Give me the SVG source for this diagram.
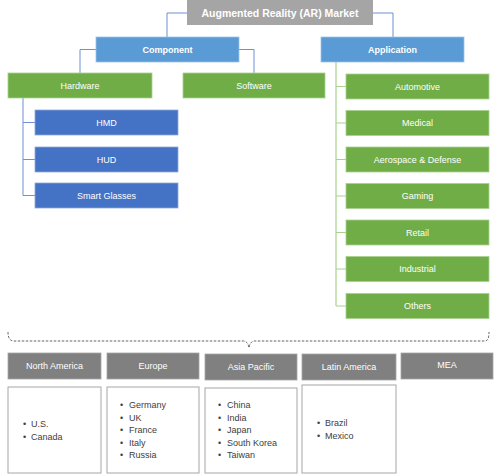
<svg xmlns="http://www.w3.org/2000/svg" width="500" height="474" viewBox="0 0 500 474">
<style>
text{font-family:"Liberation Sans",Arial,sans-serif;font-size:9px;fill:#fff;text-anchor:middle;dominant-baseline:central}
.b{font-weight:bold}
.t{font-size:10.5px}
.gray{fill:#A5A5A5}
.blue{fill:#5B9BD5;stroke:#9DC3E6;stroke-width:0.8}
.dblue{fill:#4472C4;stroke:#8FAADC;stroke-width:0.8}
.green{fill:#70AD47;stroke:#A9D18E;stroke-width:0.8}
.reg{fill:#808080;stroke:#A6A6A6;stroke-width:0.8}
.list{fill:#fff;stroke:#A6A6A6;stroke-width:1}
.lt{fill:#404040;text-anchor:start}
.cb{fill:none;stroke:#6F8FD8;stroke-width:1}
.cg{fill:none;stroke:#A9D18E;stroke-width:1.2}
.dash{fill:none;stroke:#404040;stroke-width:0.8;stroke-dasharray:2.5,1.5}
</style>
<g id="connectors">
<path class="cb" d="M187,13 H167 V37"/>
<path class="cb" d="M373,13 H393 V37"/>
<path class="cb" d="M96,49.5 H80 V73"/>
<path class="cb" d="M239,49.5 H254 V73"/>
<path class="cb" d="M23,98 V195.5 M23,122.5 H35 M23,159.5 H35 M23,195.5 H35"/>
<path class="cg" d="M336,62 V306 M336,86.5 H346 M336,123 H346 M336,159.5 H346 M336,196 H346 M336,232.5 H346 M336,269 H346 M336,306 H346"/>
<path class="dash" d="M8,332 Q8,341 14,341 H243 Q248,341 249,348 Q250,341 255,341 H485 Q489,341 489,332"/>
</g>
<g id="title"><rect class="gray" x="187" y="0" width="186" height="25"/><text class="b t" x="280" y="12.5">Augmented Reality (AR) Market</text></g>
<g id="component"><rect class="blue" x="96" y="37" width="143" height="25"/><text class="b" x="167.5" y="49.5">Component</text></g>
<g id="application"><rect class="blue" x="321" y="37" width="143" height="25"/><text class="b" x="392.5" y="49.5">Application</text></g>
<g id="hardware"><rect class="green" x="8" y="73" width="144" height="25"/><text x="80" y="85.5">Hardware</text></g>
<g id="software"><rect class="green" x="183" y="73" width="142" height="25"/><text x="254" y="85.5">Software</text></g>
<g id="hmd"><rect class="dblue" x="35" y="110" width="143" height="25"/><text x="106.5" y="122.5">HMD</text></g>
<g id="hud"><rect class="dblue" x="35" y="147" width="143" height="25"/><text x="106.5" y="159.5">HUD</text></g>
<g id="smartglasses"><rect class="dblue" x="35" y="183" width="143" height="25"/><text x="106.5" y="195.5">Smart Glasses</text></g>
<g id="automotive"><rect class="green" x="346" y="74" width="143" height="25"/><text x="417.5" y="86.5">Automotive</text></g>
<g id="medical"><rect class="green" x="346" y="110.5" width="143" height="25"/><text x="417.5" y="123">Medical</text></g>
<g id="aerospace"><rect class="green" x="346" y="147" width="143" height="25"/><text x="417.5" y="159.5">Aerospace &amp; Defense</text></g>
<g id="gaming"><rect class="green" x="346" y="183.5" width="143" height="25"/><text x="417.5" y="196">Gaming</text></g>
<g id="retail"><rect class="green" x="346" y="220" width="143" height="25"/><text x="417.5" y="232.5">Retail</text></g>
<g id="industrial"><rect class="green" x="346" y="256.5" width="143" height="25"/><text x="417.5" y="269">Industrial</text></g>
<g id="others"><rect class="green" x="346" y="293.5" width="143" height="25"/><text x="417.5" y="306">Others</text></g>
<g id="northamerica"><rect class="reg" x="8" y="353" width="93" height="26"/><text x="54.5" y="366">North America</text>
<rect class="list" x="8" y="387" width="93" height="86"/>
<text class="lt" x="23" y="424">•</text><text class="lt" x="31" y="424">U.S.</text>
<text class="lt" x="23" y="437">•</text><text class="lt" x="31" y="437">Canada</text></g>
<g id="europe"><rect class="reg" x="107" y="353" width="92" height="26"/><text x="153" y="366">Europe</text>
<rect class="list" x="107" y="387" width="92" height="86"/>
<text class="lt" x="120" y="405">•</text><text class="lt" x="129" y="405">Germany</text>
<text class="lt" x="120" y="417.5">•</text><text class="lt" x="129" y="417.5">UK</text>
<text class="lt" x="120" y="430">•</text><text class="lt" x="129" y="430">France</text>
<text class="lt" x="120" y="442.5">•</text><text class="lt" x="129" y="442.5">Italy</text>
<text class="lt" x="120" y="455">•</text><text class="lt" x="129" y="455">Russia</text></g>
<g id="asiapacific"><rect class="reg" x="205" y="354" width="92" height="26"/><text x="251" y="367">Asia Pacific</text>
<rect class="list" x="205" y="388" width="92" height="85"/>
<text class="lt" x="218" y="405">•</text><text class="lt" x="227" y="405">China</text>
<text class="lt" x="218" y="417.5">•</text><text class="lt" x="227" y="417.5">India</text>
<text class="lt" x="218" y="430">•</text><text class="lt" x="227" y="430">Japan</text>
<text class="lt" x="218" y="442.5">•</text><text class="lt" x="227" y="442.5">South Korea</text>
<text class="lt" x="218" y="455">•</text><text class="lt" x="227" y="455">Taiwan</text></g>
<g id="latinamerica"><rect class="reg" x="302" y="354" width="94" height="26"/><text x="349" y="367">Latin America</text>
<rect class="list" x="302" y="385" width="94" height="88"/>
<text class="lt" x="317" y="423">•</text><text class="lt" x="325" y="423">Brazil</text>
<text class="lt" x="317" y="435.5">•</text><text class="lt" x="325" y="435.5">Mexico</text></g>
<g id="mea"><rect class="reg" x="401" y="353" width="92" height="26"/><text x="447" y="365">MEA</text></g>
</svg>
